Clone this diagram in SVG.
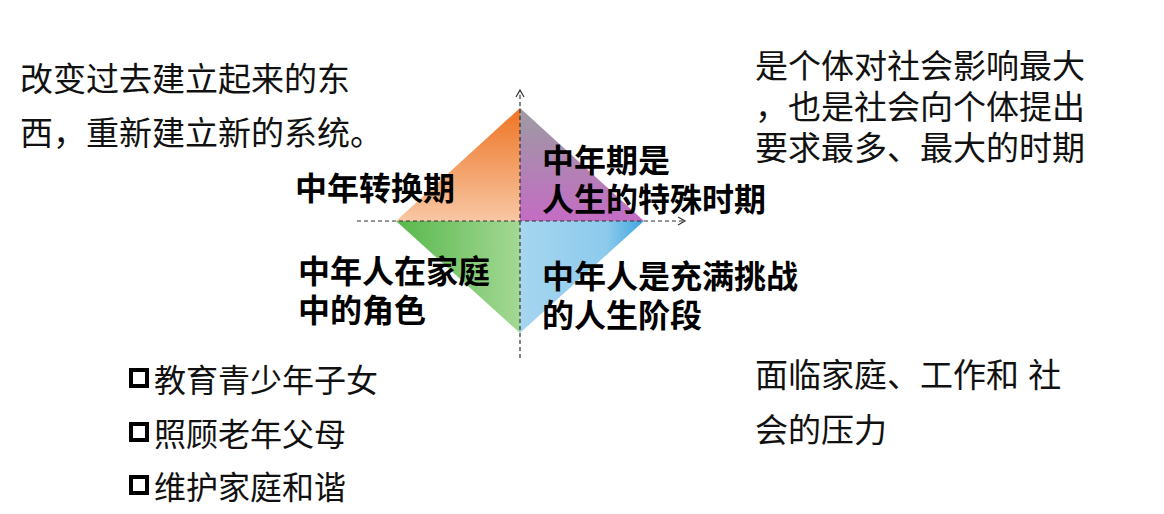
<svg xmlns="http://www.w3.org/2000/svg" width="1164" height="514" viewBox="0 0 1164 514">
<defs>
<linearGradient id="gTL" x1="0" y1="0" x2="0" y2="1"><stop offset="0" stop-color="#ee7424"/><stop offset="1" stop-color="#f8c7a4"/></linearGradient>
<linearGradient id="gTR" x1="0" y1="0" x2="0" y2="1"><stop offset="0" stop-color="#9c9ca2"/><stop offset="1" stop-color="#c46cc4"/></linearGradient>
<linearGradient id="gBL" x1="0" y1="0" x2="1" y2="0"><stop offset="0" stop-color="#58b84c"/><stop offset="1" stop-color="#a4d894"/></linearGradient>
<linearGradient id="gBR" x1="0" y1="0" x2="1" y2="0"><stop offset="0" stop-color="#a6d6f0"/><stop offset="0.7" stop-color="#8ccaec"/><stop offset="1" stop-color="#3ea6e0"/></linearGradient>
<marker id="arr" markerWidth="10" markerHeight="10" refX="8" refY="5" orient="auto" markerUnits="userSpaceOnUse"><path d="M1,1 L8,5 L1,9" fill="none" stroke="#333" stroke-width="1.2"/></marker>
<style>
.t{font-family:"Liberation Sans","Noto Sans CJK SC",sans-serif;font-size:33px;fill:#111}
.u{font-family:"Liberation Sans","Noto Sans CJK SC",sans-serif;font-size:32px;fill:#111}
.b{font-family:"Liberation Sans","Noto Sans CJK SC",sans-serif;font-size:32px;font-weight:bold;fill:#000}
.sq{fill:none;stroke:#000;stroke-width:4}
.ax{stroke:#333;stroke-width:1.2;stroke-dasharray:4,3;fill:none}
</style>
</defs>
<rect width="1164" height="514" fill="#fff"/>
<g id="quadrants">
<polygon points="520,108 396,221 520,221" fill="url(#gTL)"/>
<polygon points="520,108 644,221 520,221" fill="url(#gTR)"/>
<polygon points="396,221 520,221 520,333" fill="url(#gBL)"/>
<polygon points="520,221 644,221 520,333" fill="url(#gBR)"/>
</g>
<g id="connectors">
<line class="ax" x1="520" y1="358" x2="520" y2="90" marker-end="url(#arr)"/>
<line class="ax" x1="357" y1="221" x2="685" y2="221" marker-end="url(#arr)"/>
</g>
<g id="label-tl"><text class="b" x="295" y="200">中年转换期</text></g>
<g id="label-tr"><text class="b" x="542" y="172">中年期是</text><text class="b" x="542" y="211">人生的特殊时期</text></g>
<g id="label-bl"><text class="b" x="298" y="283">中年人在家庭</text><text class="b" x="298" y="322">中的角色</text></g>
<g id="label-br"><text class="b" x="542" y="288">中年人是充满挑战</text><text class="b" x="542" y="327">的人生阶段</text></g>
<g id="note-tl"><text class="t" x="20" y="91" font-size="34">改变过去建立起来的东</text><text class="t" x="20" y="145" font-size="34">西，重新建立新的系统。</text></g>
<g id="note-tr"><text class="t" x="755" y="78">是个体对社会影响最大</text><text class="t" x="755" y="119">，也是社会向个体提出</text><text class="t" x="755" y="160">要求最多、最大的时期</text></g>
<g id="note-bl">
<rect class="sq" x="131" y="370" width="16" height="16"/><text class="u" x="154" y="392">教育青少年子女</text>
<rect class="sq" x="131" y="424" width="16" height="16"/><text class="u" x="154" y="446">照顾老年父母</text>
<rect class="sq" x="131" y="477" width="16" height="16"/><text class="u" x="154" y="499">维护家庭和谐</text>
</g>
<g id="note-br"><text class="t" x="755" y="387">面临家庭、工作和 社</text><text class="t" x="755" y="442">会的压力</text></g>
</svg>
